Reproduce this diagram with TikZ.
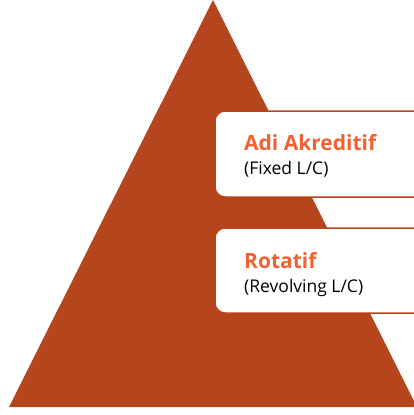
\documentclass[tikz,border=0pt]{standalone}
\usepackage{fontspec}
\setmainfont{Open Sans}
\definecolor{pyramid}{RGB}{181,69,29}
\definecolor{labelorange}{RGB}{241,98,50}
\tikzset{
  tier/.style={draw=pyramid, fill=white, line width=1.5pt, rounded corners=10pt},
  boxtitle/.style={anchor=base west, text=labelorange, font=\fontsize{21}{25}\selectfont\bfseries, inner sep=0pt},
  boxnote/.style={anchor=base west, text=black, font=\fontsize{17.5}{21}\selectfont, inner sep=0pt}
}
\begin{document}
\begin{tikzpicture}[x=1pt,y=-1pt]
        \useasboundingbox (0,0) rectangle (414,415);
        \clip (0,0) rectangle (414,415);
        \fill[pyramid] (213,0) -- (9,407) -- (417,407) -- cycle;

        \draw[tier] (420,111) -- (215,111) -- (215,197) -- (420,197);
        \draw[tier] (420,228) -- (215,228) -- (215,313) -- (420,313);

        \node[boxtitle] (fixed) at (244,150) {Adi Akreditif};
        \node[boxnote] (fixednote) at (244,174) {(Fixed L/C)};
        \node[boxtitle] (revolving) at (244,268) {Rotatif};
        \node[boxnote] (revolvingnote) at (244,292) {(Revolving L/C)};
    \end{tikzpicture}
\end{document}
